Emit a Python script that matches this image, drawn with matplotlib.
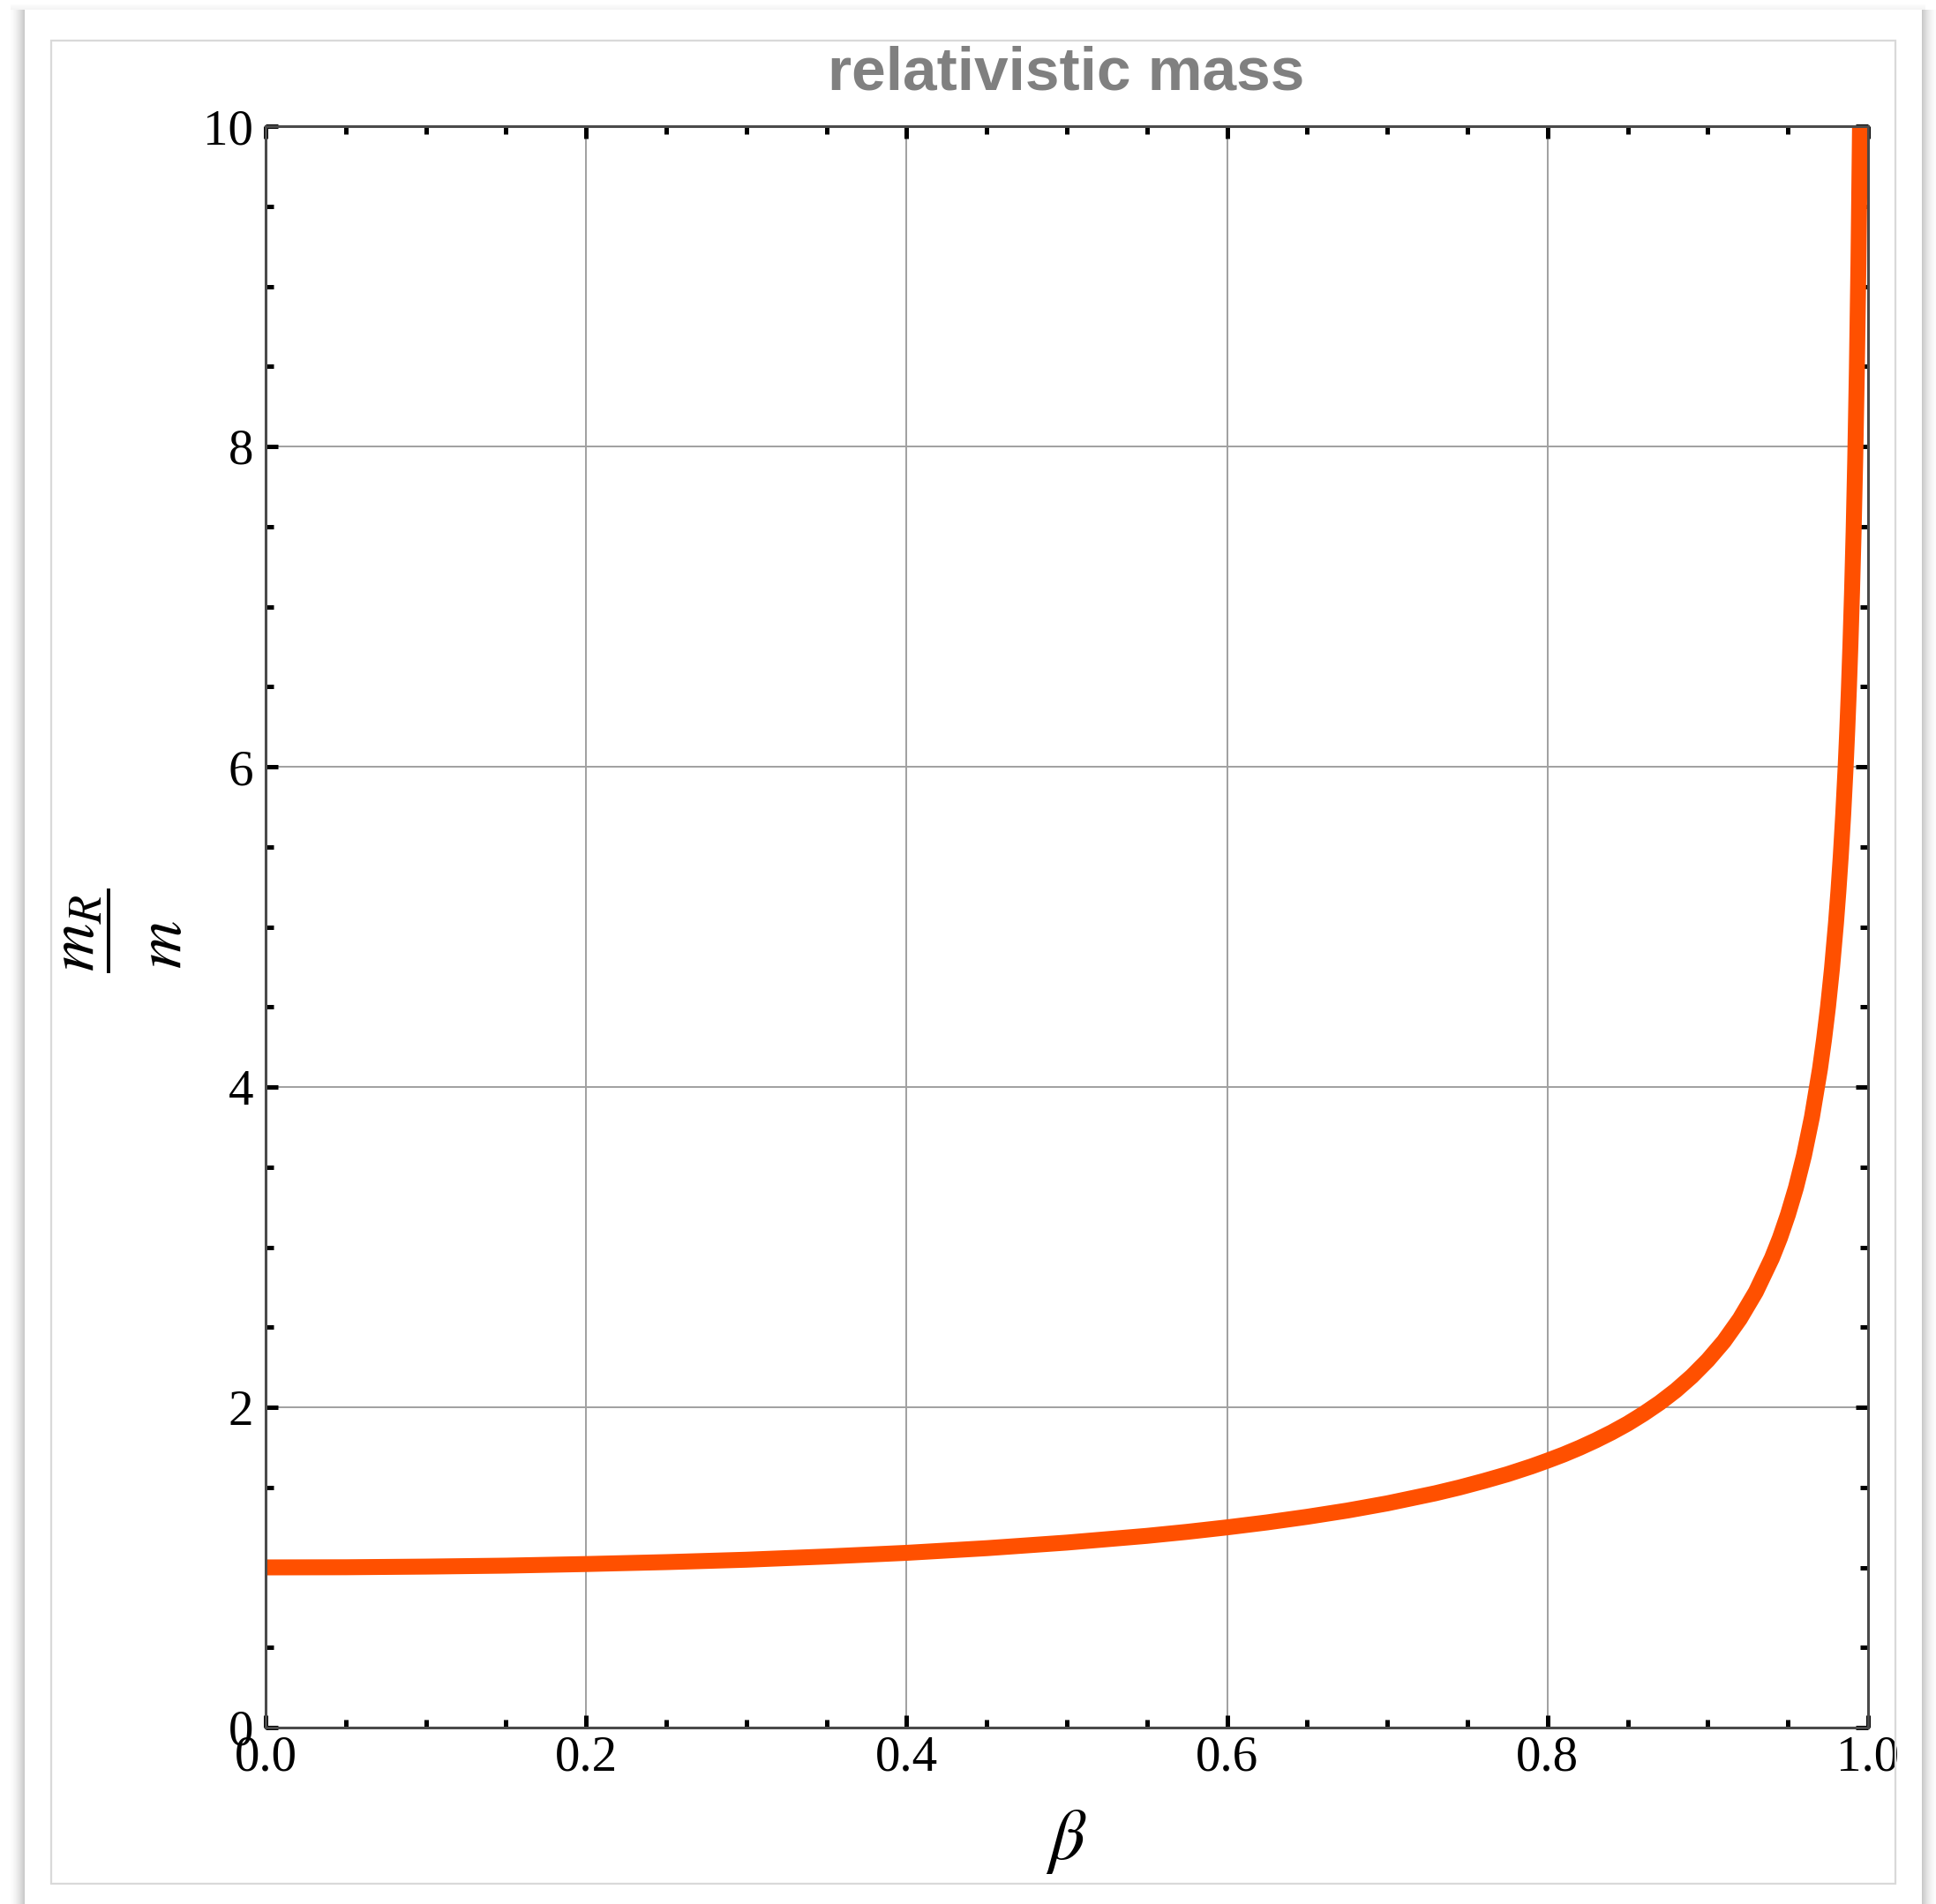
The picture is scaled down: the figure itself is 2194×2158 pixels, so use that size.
import numpy as np
import matplotlib
matplotlib.use("Agg")
import matplotlib.pyplot as plt
from matplotlib.patches import Rectangle
from matplotlib.lines import Line2D

# values (beta, m_R/m)
beta = [0.00, 0.05, 0.10, 0.15, 0.20, 0.25, 0.30, 0.35, 0.40, 0.45, 0.50,
        0.55, 0.575, 0.60, 0.625, 0.65, 0.675, 0.70, 0.73, 0.745, 0.76, 0.775,
        0.79, 0.80, 0.81, 0.82, 0.83, 0.84, 0.85, 0.86, 0.87, 0.88, 0.89,
        0.90, 0.91, 0.92, 0.93, 0.94, 0.945, 0.95, 0.955, 0.96, 0.965, 0.97,
        0.9725, 0.975, 0.9775, 0.98, 0.9815, 0.983, 0.9845, 0.986, 0.987,
        0.988, 0.989, 0.990, 0.991, 0.992, 0.993, 0.994, 0.995, 0.996]
mass_ratio = [1.000, 1.001, 1.005, 1.011, 1.021, 1.033, 1.048, 1.068, 1.091,
              1.120, 1.155, 1.197, 1.222, 1.250, 1.281, 1.316, 1.355, 1.400,
              1.463, 1.499, 1.539, 1.582, 1.631, 1.667, 1.705, 1.747, 1.793,
              1.843, 1.898, 1.960, 2.028, 2.105, 2.193, 2.294, 2.411, 2.552,
              2.721, 2.931, 3.057, 3.203, 3.371, 3.571, 3.813, 4.113, 4.294,
              4.500, 4.741, 5.025, 5.223, 5.446, 5.702, 5.997, 6.222, 6.474,
              6.761, 7.089, 7.470, 7.920, 8.467, 9.142, 10.01, 11.19]

x_ticks = [0.0, 0.2, 0.4, 0.6, 0.8, 1.0]
x_labels = ["0.0", "0.2", "0.4", "0.6", "0.8", "1.0"]
y_ticks = [0, 2, 4, 6, 8, 10]
y_labels = ["0", "2", "4", "6", "8", "10"]

W, H = 2194, 2158
plt.rcParams["mathtext.fontset"] = "stix"
fig = plt.figure(figsize=(W / 100, H / 100), dpi=100)


def fx(px):
    return px / W


def fy(py):
    return 1 - py / H


# notebook-like panel with a soft shadow
for i in range(16):
    g = 0.99 - 0.2 * (i / 15) ** 1.5
    fig.patches.append(Rectangle((fx(12 + i), 0), fx(1.2), fy(11), transform=fig.transFigure,
                                 color=str(g), lw=0, zorder=0))
    fig.patches.append(Rectangle((fx(2193 - i), 0), fx(1.2), fy(11), transform=fig.transFigure,
                                 color=str(g), lw=0, zorder=0))
for i in range(6):
    g = 0.985 - 0.03 * i / 5
    fig.patches.append(Rectangle((fx(12), fy(6 + i)), fx(2182 - 12), fx(1.2), transform=fig.transFigure,
                                 color=str(g), lw=0, zorder=0))
fig.patches.append(Rectangle((fx(58), fy(2135)), fx(2148 - 58), fy(46) - fy(2135),
                             transform=fig.transFigure, fill=False, ec="#d9d9d9", lw=1.6, zorder=1))

ax = fig.add_axes([fx(301), fy(1958), fx(2117 - 301), fy(143) - fy(1958)])
ax.plot(beta, mass_ratio, color="#ff5000", lw=13, solid_capstyle="butt",
        solid_joinstyle="round", zorder=3)

ax.set_xlim(0, 1)
ax.set_ylim(0, 10)
ax.set_xticks(x_ticks)
ax.set_xticklabels(x_labels)
ax.set_yticks(y_ticks)
ax.set_yticklabels(y_labels)
ax.set_xticks(np.arange(0, 1.001, 0.05), minor=True)
ax.set_yticks(np.arange(0, 10.001, 0.5), minor=True)
ax.grid(True, which="major", color="#a0a0a0", lw=1.4, zorder=1)

ax.tick_params(which="both", direction="in", top=True, right=True, color="black", zorder=4)
ax.tick_params(which="major", length=10, width=3.6)
ax.tick_params(which="minor", length=6.5, width=3.6)
ax.tick_params(axis="y", which="major", pad=10)
ax.tick_params(axis="x", which="major", pad=6)
for lab in ax.get_xticklabels() + ax.get_yticklabels():
    lab.set_fontfamily("Liberation Serif")
    lab.set_fontsize(41)
for s in ax.spines.values():
    s.set_color("#4a4a4a")
    s.set_linewidth(2.2)
    s.set_zorder(4)

fig.text(fx(1208), fy(102), "relativistic mass", ha="center", va="baseline",
         fontfamily="Liberation Sans", fontweight="bold", fontsize=50, color="#808080")
fig.text(fx(1208), fy(2087), r"$\beta$", ha="center", va="center", fontsize=58)

# y label: m_R over m, drawn as a rotated fraction
fig.text(fx(86), fy(1057), r"$m_R$", ha="center", va="center", rotation=90, fontsize=54)
fig.lines.append(Line2D([fx(123), fx(123)], [fy(1009), fy(1101)], transform=fig.transFigure,
                        color="black", lw=2.8))
fig.text(fx(184), fy(1071), r"$m$", ha="center", va="center", rotation=90, fontsize=54)

fig.savefig("out.png", dpi=100, facecolor="white")
